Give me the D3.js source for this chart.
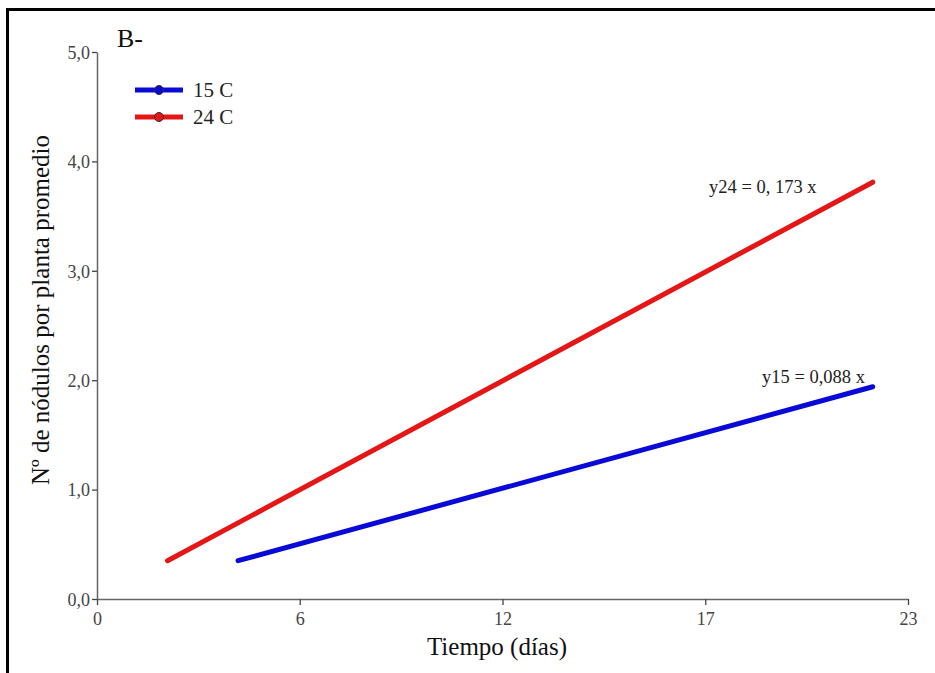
<!DOCTYPE html>
<html>
  <head>
    <title> Nodulos B </title>
    <script src = "https://d3js.org/d3.v7.min.js" charset = "utf-8"></script>
    <style>
      body { margin: 0; background: #fff; }
      text { font-family: "Liberation Serif", "Times New Roman", serif; }
    </style>
  </head>
  <body>
    <script>
      // data
      var series = ["15 C", "24 C"];
      var colors = ["#0a0ad8", "#e41616"];
      var days15 = [4.0, 22.0];
      var nod15 = [0.35, 1.94];
      var days24 = [2.0, 22.0];
      var nod24 = [0.35, 3.81];
      var xTicks = [0, 5.75, 11.5, 17.25, 23];
      var xTickLabels = ["0", "6", "12", "17", "23"];
      var yTicks = [0, 1, 2, 3, 4, 5];
      var equations = ["y15 = 0,088 x", "y24 = 0, 173 x"];

      var width = 935;
      var height = 673;

      var svg = d3.select("body")
        .append("svg")
        .attr("width", width)
        .attr("height", height);

      // frame (top and left edges only)
      svg.append("path")
        .attr("d", "M7.5,673 L7.5,9.5 L935,9.5")
        .attr("fill", "none")
        .attr("stroke", "#000")
        .attr("stroke-width", 3);

      var x = d3.scaleLinear().domain([0, 23]).range([97, 908]);
      var y = d3.scaleLinear().domain([0, 5]).range([599, 52]);

      var xAxis = svg.append("g")
        .attr("transform", "translate(0,599)")
        .call(d3.axisBottom(x).tickValues(xTicks).tickSize(6).tickSizeOuter(0)
          .tickFormat(function(d, i){ return xTickLabels[i]; }));

      var yAxis = svg.append("g")
        .attr("transform", "translate(97,0)")
        .call(d3.axisLeft(y).tickValues(yTicks).tickSize(5).tickSizeOuter(0)
          .tickFormat(function(d){ return d3.format(".1f")(d).replace(".", ","); }));

      [xAxis, yAxis].forEach(function(a){
        a.select(".domain").attr("stroke", "#666").attr("stroke-width", 1.5);
        a.selectAll(".tick line").attr("stroke", "#444").attr("stroke-width", 1.3);
        a.selectAll(".tick text")
          .attr("fill", "#444")
          .style("font-size", "18px")
          .style("font-family", "'Liberation Serif', serif");
      });
      xAxis.selectAll(".tick text").attr("dy", "0.95em");
      yAxis.selectAll(".tick text").attr("x", -7).attr("dy", "0.35em");

      var line = d3.line()
        .x(function(d){ return x(d[0]); })
        .y(function(d){ return y(d[1]); });

      var data = [d3.zip(days15, nod15), d3.zip(days24, nod24)];

      svg.append("g").selectAll("path")
        .data(data)
        .enter()
        .append("path")
        .attr("d", line)
        .attr("fill", "none")
        .attr("stroke", function(d, i){ return colors[i]; })
        .attr("stroke-width", 5)
        .attr("stroke-linecap", "round");

      // equations
      svg.append("text").attr("x", 762).attr("y", 383)
        .style("font-size", "18.5px").attr("fill", "#222")
        .text(equations[0]);
      svg.append("text").attr("x", 709).attr("y", 193)
        .style("font-size", "18.5px").attr("fill", "#222")
        .text(equations[1]);

      // legend
      var leg = svg.append("g").selectAll("g")
        .data(series)
        .enter()
        .append("g")
        .attr("transform", function(d, i){ return "translate(0," + (90 + i * 27) + ")"; });
      leg.append("line")
        .attr("x1", 135).attr("x2", 183)
        .attr("stroke", function(d, i){ return colors[i]; })
        .attr("stroke-width", 5);
      leg.append("circle")
        .attr("cx", 159).attr("r", 4.5)
        .attr("fill", function(d, i){ return colors[i]; })
        .attr("stroke", "#333").attr("stroke-width", 1);
      leg.append("text")
        .attr("x", 193).attr("y", 7)
        .style("font-size", "21px").attr("fill", "#222")
        .text(function(d){ return d; });

      // panel letter and axis titles
      svg.append("text").attr("x", 117).attr("y", 47)
        .style("font-size", "26px").attr("fill", "#111")
        .text("B-");

      svg.append("text")
        .attr("x", 497).attr("y", 655)
        .attr("text-anchor", "middle")
        .style("font-size", "25px").attr("fill", "#111")
        .text("Tiempo (días)");

      svg.append("text")
        .attr("transform", "translate(49,310) rotate(-90)")
        .attr("text-anchor", "middle")
        .style("font-size", "25px").attr("fill", "#111")
        .text("Nº de nódulos por planta promedio");
    </script>
  </body>
</html>
